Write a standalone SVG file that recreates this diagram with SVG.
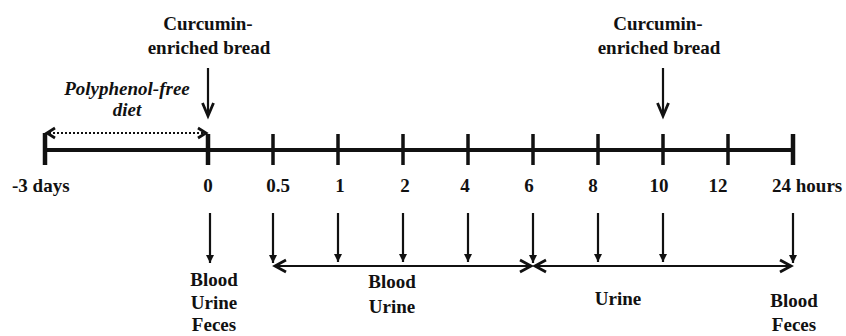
<svg xmlns="http://www.w3.org/2000/svg" width="846" height="336" viewBox="0 0 846 336">
  <style>
    .lbl { font-family: "Liberation Serif", "Times New Roman", serif; font-weight: bold; font-size: 19px; fill: #111; }
    .mid { text-anchor: middle; }
    .ital { font-style: italic; }
    .axis { stroke: #111; stroke-width: 4; fill: none; }
    .tick { stroke: #111; stroke-width: 3.5; fill: none; }
    .tickw { stroke: #111; stroke-width: 4.5; fill: none; }
    .shaft { stroke: #111; stroke-width: 2.2; fill: none; }
    .chev { stroke: #111; stroke-width: 2.8; fill: none; stroke-linejoin: miter; stroke-linecap: butt; }
    .dot { stroke: #111; stroke-width: 2; stroke-dasharray: 2 2; fill: none; }
  </style>
  <defs>
    <marker id="tri" viewBox="0 0 10 10" refX="10" refY="5" markerWidth="10" markerHeight="8" markerUnits="userSpaceOnUse" orient="auto">
      <path d="M0,0 L10,5 L0,10 Z" fill="#111"/>
    </marker>
  </defs>

  <!-- timeline axis with ticks -->
  <g id="timeline">
    <line class="axis" x1="45" y1="150" x2="793" y2="150"/>
    <line class="tickw" x1="45" y1="133" x2="45" y2="165"/>
    <line class="tickw" x1="208" y1="134" x2="208" y2="165"/>
    <line class="tick" x1="273" y1="134" x2="273" y2="165"/>
    <line class="tick" x1="338" y1="134" x2="338" y2="165"/>
    <line class="tick" x1="403" y1="134" x2="403" y2="165"/>
    <line class="tick" x1="468" y1="134" x2="468" y2="165"/>
    <line class="tick" x1="533" y1="134" x2="533" y2="165"/>
    <line class="tick" x1="598" y1="134" x2="598" y2="165"/>
    <line class="tick" x1="663" y1="134" x2="663" y2="165"/>
    <line class="tick" x1="728" y1="134" x2="728" y2="165"/>
    <line class="tickw" x1="793" y1="134" x2="793" y2="165"/>
    <text class="lbl" x="12" y="192">-3 days</text>
    <text class="lbl mid" x="208" y="192">0</text>
    <text class="lbl mid" x="278" y="192">0.5</text>
    <text class="lbl mid" x="340" y="192">1</text>
    <text class="lbl mid" x="405" y="192">2</text>
    <text class="lbl mid" x="465" y="192">4</text>
    <text class="lbl mid" x="529" y="192">6</text>
    <text class="lbl mid" x="593" y="192">8</text>
    <text class="lbl mid" x="659" y="192">10</text>
    <text class="lbl mid" x="718" y="192">12</text>
    <text class="lbl" x="772" y="192">24 hours</text>
  </g>

  <!-- intake events -->
  <g id="bread-0">
    <text class="lbl mid" x="208" y="30">Curcumin-</text>
    <text class="lbl mid" x="209" y="54">enriched bread</text>
  </g>
  <g id="bread-10">
    <text class="lbl mid" x="658" y="30">Curcumin-</text>
    <text class="lbl mid" x="659" y="54">enriched bread</text>
  </g>
  <g id="diet">
    <text class="lbl mid ital" x="127" y="95">Polyphenol-free</text>
    <text class="lbl mid ital" x="127" y="116">diet</text>
  </g>

  <!-- sampling labels -->
  <g id="sample-0">
    <text class="lbl mid" x="214" y="286">Blood</text>
    <text class="lbl mid" x="214" y="309">Urine</text>
    <text class="lbl mid" x="214" y="331">Feces</text>
  </g>
  <g id="sample-0.5-6">
    <text class="lbl mid" x="392" y="288">Blood</text>
    <text class="lbl mid" x="392" y="313">Urine</text>
  </g>
  <g id="sample-6-24">
    <text class="lbl mid" x="618" y="305">Urine</text>
  </g>
  <g id="sample-24">
    <text class="lbl mid" x="794" y="307">Blood</text>
    <text class="lbl mid" x="794" y="331">Feces</text>
  </g>

  <!-- connectors -->
  <g id="connectors">
    <!-- intake arrows -->
    <line class="shaft" x1="208" y1="68" x2="208" y2="115"/>
    <polyline class="chev" points="202.5,103 208,116 213.5,103"/>
    <line class="shaft" x1="663" y1="68" x2="663" y2="115"/>
    <polyline class="chev" points="657.5,103 663,116 668.5,103"/>

    <!-- polyphenol-free period -->
    <line class="dot" x1="49" y1="133" x2="204" y2="133"/>
    <polyline class="chev" points="55,128 47,133 55,138"/>
    <polyline class="chev" points="198,128 206,133 198,138"/>

    <!-- sampling arrows -->
    <line class="shaft" x1="210" y1="213" x2="210" y2="263" marker-end="url(#tri)"/>
    <line class="shaft" x1="273" y1="213" x2="273" y2="263" marker-end="url(#tri)"/>
    <line class="shaft" x1="338" y1="213" x2="338" y2="262" marker-end="url(#tri)"/>
    <line class="shaft" x1="403" y1="213" x2="403" y2="262" marker-end="url(#tri)"/>
    <line class="shaft" x1="468" y1="213" x2="468" y2="262" marker-end="url(#tri)"/>
    <line class="shaft" x1="533" y1="213" x2="533" y2="263" marker-end="url(#tri)"/>
    <line class="shaft" x1="598" y1="213" x2="598" y2="262" marker-end="url(#tri)"/>
    <line class="shaft" x1="663" y1="213" x2="663" y2="262" marker-end="url(#tri)"/>
    <line class="shaft" x1="793" y1="213" x2="793" y2="263" marker-end="url(#tri)"/>

    <!-- collection intervals -->
    <line class="shaft" x1="275" y1="266" x2="531" y2="266"/>
    <polyline class="chev" points="286,260 275,266 286,272"/>
    <polyline class="chev" points="520,260 531,266 520,272"/>
    <line class="shaft" x1="535" y1="266" x2="791" y2="266"/>
    <polyline class="chev" points="546,260 535,266 546,272"/>
    <polyline class="chev" points="780,260 791,266 780,272"/>
  </g>
</svg>
